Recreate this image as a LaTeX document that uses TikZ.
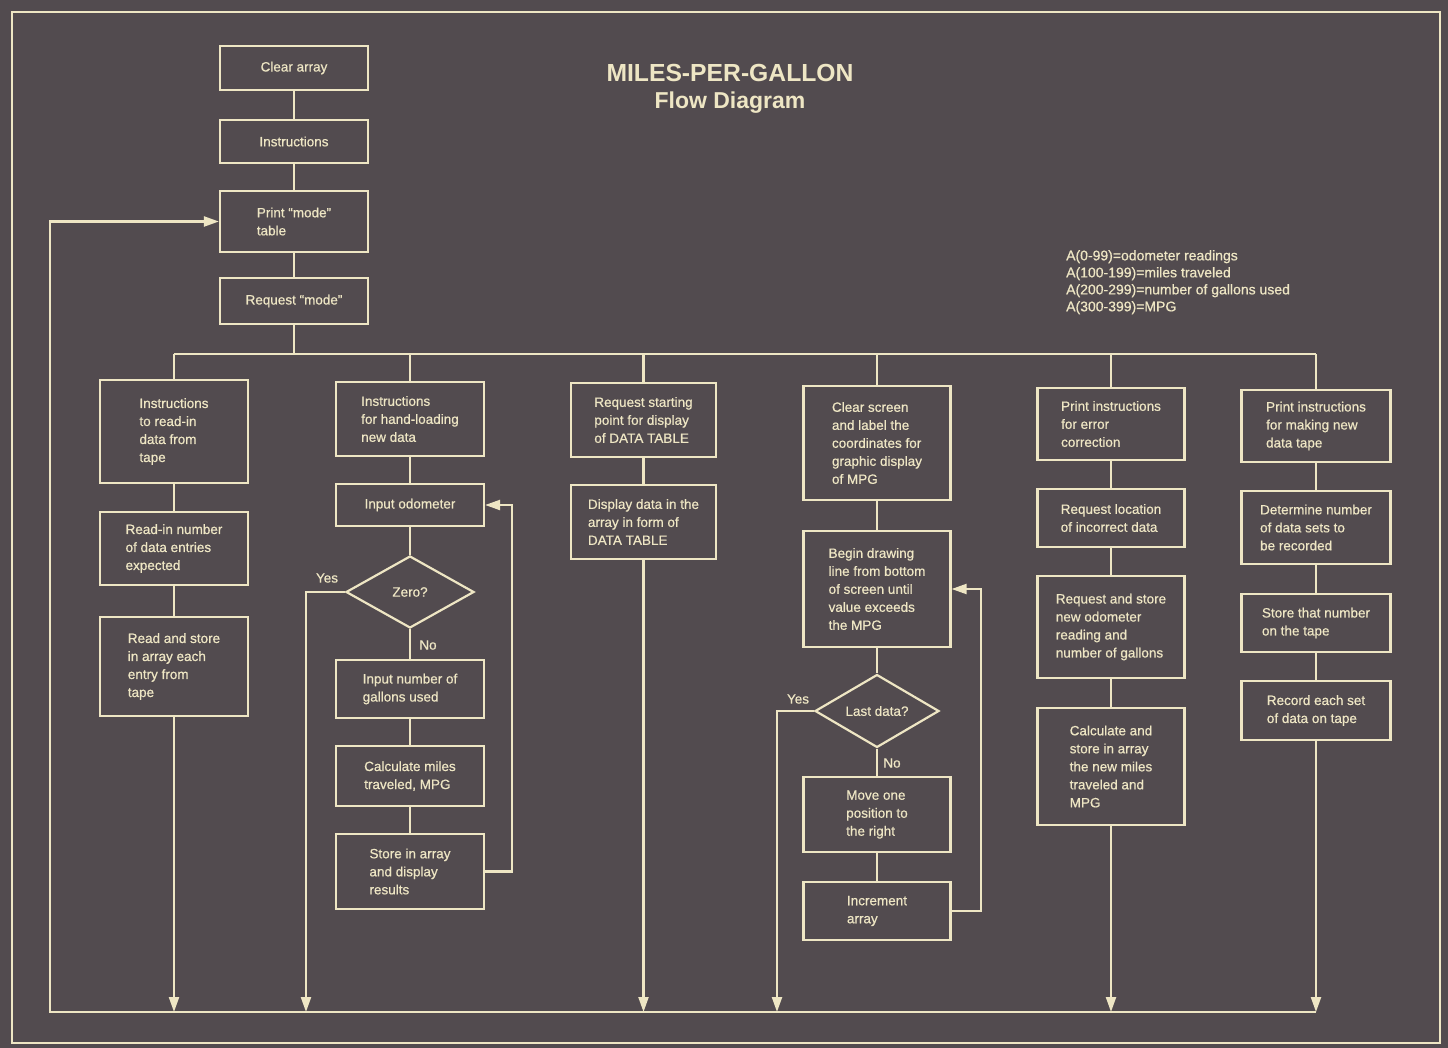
\documentclass[tikz,border=0pt]{standalone}
\usepackage{fontspec}
\setmainfont{Liberation Sans}
\newfontfamily\heavyfont[FakeBold=0.6]{Liberation Sans}
\usetikzlibrary{arrows.meta,shapes.geometric}
\definecolor{bg}{RGB}{82,75,79}
\definecolor{ink}{RGB}{238,230,196}
\tikzset{
  box/.style={draw=ink, line width=2.2pt, minimum width=148pt, align=left, text=ink,
    font=\heavyfont\fontsize{13.5}{18}\selectfont, inner sep=2pt},
  dia/.style={diamond, draw=ink, line width=2.2pt, text=ink, inner sep=0pt,
    font=\heavyfont\fontsize{13.5}{18}\selectfont},
  wire/.style={draw=ink, line width=2.2pt},
  arr/.style={wire, -{Triangle[width=10pt,length=15pt]}},
  lbl/.style={text=ink, font=\heavyfont\fontsize{13.5}{16}\selectfont, inner sep=0pt},
}
\begin{document}
\begin{tikzpicture}[x=1pt,y=-1pt]
\useasboundingbox (0,0) rectangle (1448,1048);
\fill[bg] (0,0) rectangle (1448,1048);
\draw[ink, line width=2pt] (12,12) rectangle (1440,1043);

% title and legend
\node[text=ink, font=\bfseries\fontsize{24.7}{28}\selectfont] (title) at (730,73) {MILES-PER-GALLON};
\node[text=ink, font=\bfseries\fontsize{23}{28}\selectfont] (subtitle) at (730,103) {Flow Diagram};
\node[text=ink, font=\heavyfont\fontsize{14}{17}\selectfont, align=left, anchor=north west, inner sep=0pt] (legend) at (1066,250)
  {A(0-99)=odometer readings\\A(100-199)=miles traveled\\A(200-299)=number of gallons used\\A(300-399)=MPG};

% top column
\node[box, minimum height=44pt] (clr) at (294,68) {Clear array};
\node[box, minimum height=43pt] (ins) at (294,141.5) {Instructions};
\node[box, minimum height=61pt] (prt) at (294,221.5) {Print “mode”\\table};
\node[box, minimum height=46pt] (req) at (294,301) {Request “mode”};

% column 1
\node[box, minimum height=103pt] (c1a) at (174,431.5) {Instructions\\to read-in\\data from\\tape};
\node[box, minimum height=73pt] (c1b) at (174,548.5) {Read-in number\\of data entries\\expected};
\node[box, minimum height=99pt] (c1c) at (174,666.5) {Read and store\\in array each\\entry from\\tape};

% column 2
\node[box, minimum height=74pt] (c2a) at (410,419) {Instructions\\for hand-loading\\new data};
\node[box, minimum height=42pt] (c2b) at (410,505) {Input odometer};
\node[dia, minimum width=128pt, minimum height=72pt] (zero) at (410,592) {Zero?};
\node[box, minimum height=58pt] (c2c) at (410,689) {Input number of\\gallons used};
\node[box, minimum height=60pt] (c2d) at (410,776) {Calculate miles\\traveled, MPG};
\node[box, minimum height=75pt] (c2e) at (410,871.5) {Store in array\\and display\\results};

% column 3
\node[box, minimum width=145pt, minimum height=74pt] (c3a) at (643.5,420) {Request starting\\point for display\\of DATA TABLE};
\node[box, minimum width=145pt, minimum height=74pt] (c3b) at (643.5,522) {Display data in the\\array in form of\\DATA TABLE};

% column 4
\node[box, minimum width=147pt, minimum height=114pt] (c4a) at (877,443) {Clear screen\\and label the\\coordinates for\\graphic display\\of MPG};
\node[box, minimum width=147pt, minimum height=116pt] (c4b) at (877,589) {Begin drawing\\line from bottom\\of screen until\\value exceeds\\the MPG};
\node[dia, minimum width=124pt, minimum height=68pt] (last) at (877,711) {Last data?};
\node[box, minimum width=147pt, minimum height=75pt] (c4c) at (877,814.5) {Move one\\position to\\the right};
\node[box, minimum width=147pt, minimum height=58pt] (c4d) at (877,911) {Increment\\array};

% column 5
\node[box, minimum width=147pt, minimum height=72pt] (c5a) at (1111,424) {Print instructions\\for error\\correction};
\node[box, minimum width=147pt, minimum height=58pt] (c5b) at (1111,518) {Request location\\of incorrect data};
\node[box, minimum width=147pt, minimum height=102pt] (c5c) at (1111,627) {Request and store\\new odometer\\reading and\\number of gallons};
\node[box, minimum width=147pt, minimum height=117pt] (c5d) at (1111,766.5) {Calculate and\\store in array\\the new miles\\traveled and\\MPG};

% column 6
\node[box, minimum width=149pt, minimum height=72pt] (c6a) at (1316,426) {Print instructions\\for making new\\data tape};
\node[box, minimum width=149pt, minimum height=73pt] (c6b) at (1316,527.5) {Determine number\\of data sets to\\be recorded};
\node[box, minimum width=149pt, minimum height=58pt] (c6c) at (1316,623) {Store that number\\on the tape};
\node[box, minimum width=149pt, minimum height=59pt] (c6d) at (1316,710.5) {Record each set\\of data on tape};

% labels
\node[lbl] (yes2) at (327,578) {Yes};
\node[lbl] (no2) at (428,645) {No};
\node[lbl] (yes4) at (798,699) {Yes};
\node[lbl] (no4) at (892,763) {No};

% helper coordinates
\coordinate (bus) at (0,354);
\coordinate (bl) at (50,1012);
\coordinate (yx2) at (306,0);
\coordinate (yx4) at (777,0);
\coordinate (lp2) at (512,0);
\coordinate (lp4) at (981,0);

% top chain
\draw[wire] (clr) -- (ins);
\draw[wire] (ins) -- (prt);
\draw[wire] (prt) -- (req);
\draw[wire] (req.south) -- (req.south |- bus);
\draw[wire] (c1a.north |- bus) -- (c6a.north |- bus);
\foreach \n in {c1a,c2a,c3a,c4a,c5a,c6a} {\draw[wire] (\n.north) -- (\n.north |- bus);}

% column chains
\draw[wire] (c1a) -- (c1b);
\draw[wire] (c1b) -- (c1c);
\draw[arr] (c1c.south) -- (c1c.south |- bl);

\draw[wire] (c2a) -- (c2b);
\draw[wire] (c2b) -- (zero);
\draw[wire] (zero) -- (c2c);
\draw[wire] (c2c) -- (c2d);
\draw[wire] (c2d) -- (c2e);
\draw[arr] (zero.west) -- (yx2 |- zero.west) -- (yx2 |- bl);
\draw[arr] (c2e.east) -- (lp2 |- c2e.east) -- (lp2 |- c2b.east) -- (c2b.east);

\draw[wire] (c3a) -- (c3b);
\draw[arr] (c3b.south) -- (c3b.south |- bl);

\draw[wire] (c4a) -- (c4b);
\draw[wire] (c4b) -- (last);
\draw[wire] (last) -- (c4c);
\draw[wire] (c4c) -- (c4d);
\draw[arr] (last.west) -- (yx4 |- last.west) -- (yx4 |- bl);
\draw[arr] (c4d.east) -- (lp4 |- c4d.east) -- (lp4 |- c4b.east) -- (c4b.east);

\draw[wire] (c5a) -- (c5b);
\draw[wire] (c5b) -- (c5c);
\draw[wire] (c5c) -- (c5d);
\draw[arr] (c5d.south) -- (c5d.south |- bl);

\draw[wire] (c6a) -- (c6b);
\draw[wire] (c6b) -- (c6c);
\draw[wire] (c6c) -- (c6d);
\draw[arr] (c6d.south) -- (c6d.south |- bl);

% return line
\draw[arr] (c6d.south |- bl) -- (bl) -- (bl |- prt.west) -- (prt.west);
\end{tikzpicture}
\end{document}
